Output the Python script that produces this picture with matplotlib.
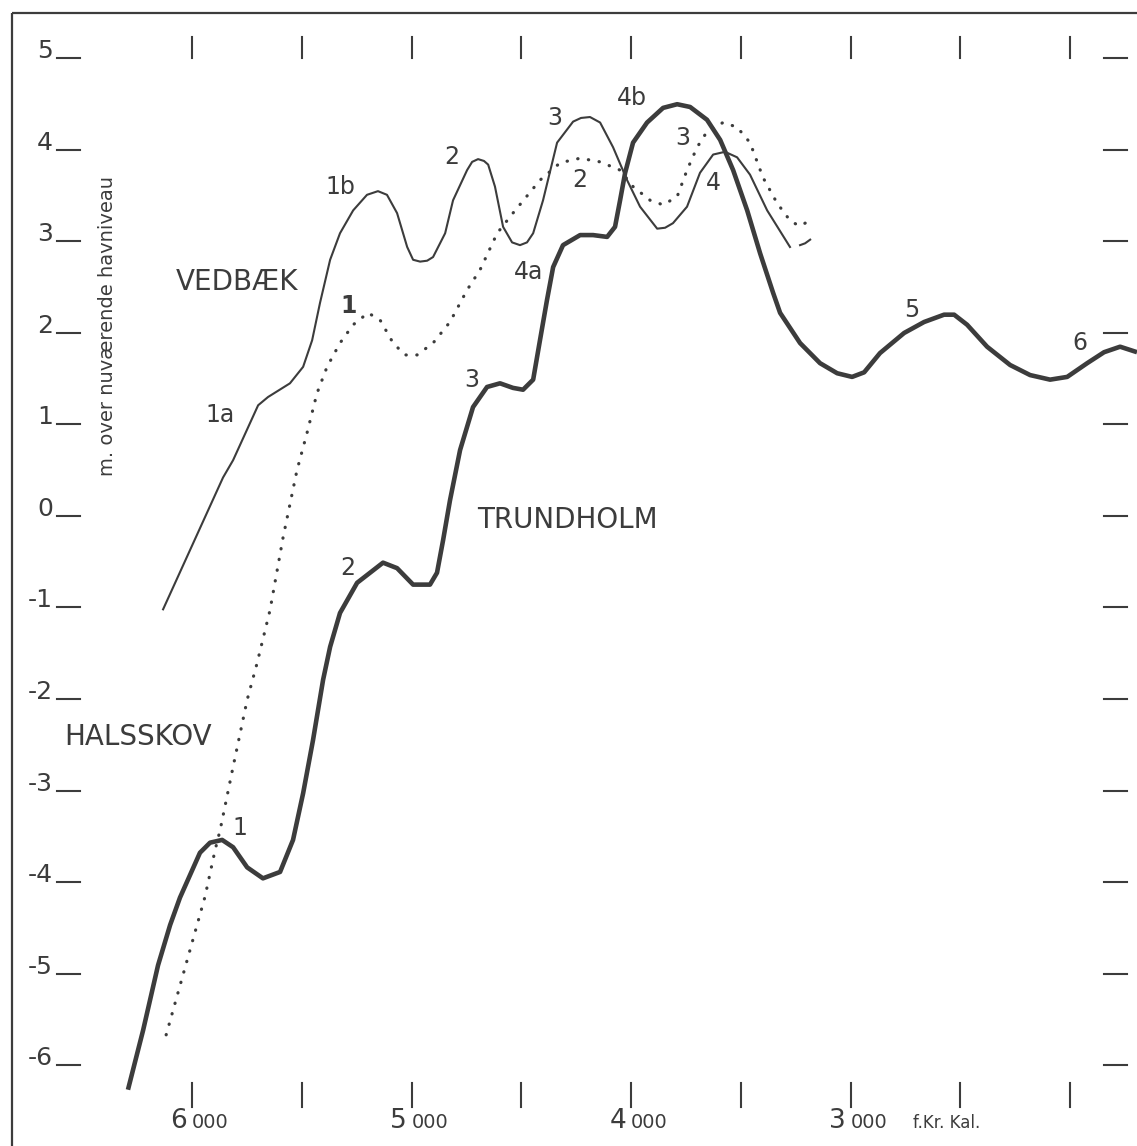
import numpy as np
import matplotlib
matplotlib.use('Agg')
import matplotlib.pyplot as plt

plt.rcParams['font.family'] = 'DejaVu Sans'
ink = '#3c3c3c'

# years f.Kr. (BC) and metres over present sea level
vedbaek_x = [6132, 5859, 5813, 5699, 5654, 5554, 5494, 5453, 5417, 5371, 5326, 5266, 5203,
             5153, 5112, 5066, 5020, 4993, 4961, 4929, 4902, 4847, 4811, 4747, 4724, 4697,
             4670, 4651, 4620, 4583, 4542, 4506, 4474, 4446, 4401, 4337, 4264, 4228, 4187,
             4141, 4082, 4018, 3959, 3881, 3845, 3809, 3745, 3686, 3626, 3572, 3517, 3458,
             3380, 3276]
vedbaek_y = [-1.02, 0.42, 0.61, 1.21, 1.30, 1.45, 1.63, 1.92, 2.33, 2.80, 3.09, 3.34, 3.51,
             3.55, 3.51, 3.31, 2.94, 2.80, 2.78, 2.79, 2.83, 3.09, 3.45, 3.78, 3.87, 3.90,
             3.88, 3.84, 3.60, 3.16, 2.99, 2.96, 2.99, 3.09, 3.45, 4.08, 4.31, 4.35, 4.36,
             4.30, 4.03, 3.67, 3.38, 3.14, 3.15, 3.20, 3.38, 3.75, 3.95, 3.98, 3.92, 3.73,
             3.34, 2.94]
vedbaek_tail_x = [3230, 3207, 3184]
vedbaek_tail_y = [2.96, 2.98, 3.02]

halsskov_x = [6118, 5941, 5895, 5872, 5813, 5749, 5704, 5645, 5585, 5522, 5476, 5431, 5385,
              5326, 5266, 5198, 5143, 5084, 5030, 4975, 4902, 4825, 4747, 4688, 4610, 4538,
              4415, 4323, 4232, 4141, 4050, 3991, 3913, 3854, 3790, 3745, 3699, 3654, 3581,
              3517, 3458, 3399, 3335, 3276, 3235, 3198]
halsskov_y = [-5.67, -4.16, -3.65, -3.43, -2.74, -2.01, -1.61, -1.03, -0.23, 0.50, 0.91, 1.34,
              1.63, 1.89, 2.09, 2.22, 2.14, 1.89, 1.76, 1.76, 1.89, 2.12, 2.47, 2.69, 3.09,
              3.31, 3.67, 3.86, 3.91, 3.87, 3.78, 3.60, 3.45, 3.40, 3.49, 3.78, 4.03, 4.20,
              4.30, 4.25, 4.08, 3.70, 3.42, 3.23, 3.17, 3.21]

trundholm_x = [6292, 6223, 6155, 6100, 6055, 5964, 5918, 5863, 5813, 5749, 5677, 5599, 5540,
               5494, 5449, 5403, 5371, 5326, 5248, 5130, 5066, 4993, 4916, 4884, 4856, 4825,
               4779, 4720, 4656, 4597, 4538, 4492, 4446, 4415, 4383, 4355, 4310, 4232, 4173,
               4109, 4073, 4050, 4027, 3991, 3927, 3854, 3790, 3731, 3654, 3594, 3535, 3471,
               3412, 3353, 3321, 3230, 3139, 3061, 2993, 2938, 2866, 2756, 2665, 2574, 2528,
               2469, 2378, 2273, 2182, 2091, 2013, 1922, 1845, 1772, 1695]
trundholm_y = [-6.27, -5.62, -4.91, -4.47, -4.17, -3.68, -3.57, -3.54, -3.62, -3.84, -3.96,
               -3.89, -3.54, -3.03, -2.45, -1.79, -1.43, -1.06, -0.73, -0.51, -0.57, -0.75,
               -0.75, -0.62, -0.26, 0.17, 0.72, 1.19, 1.41, 1.45, 1.40, 1.38, 1.49, 1.92,
               2.36, 2.72, 2.96, 3.07, 3.07, 3.05, 3.16, 3.45, 3.75, 4.08, 4.30, 4.46, 4.50,
               4.47, 4.33, 4.11, 3.78, 3.34, 2.87, 2.44, 2.22, 1.89, 1.67, 1.56, 1.52, 1.57,
               1.78, 2.00, 2.12, 2.20, 2.20, 2.09, 1.85, 1.65, 1.54, 1.49, 1.52, 1.67, 1.79,
               1.85, 1.79]

y_ticks = [5, 4, 3, 2, 1, 0, -1, -2, -3, -4, -5, -6]
x_ticks = [6000, 5500, 5000, 4500, 4000, 3500, 3000, 2500, 2000]
x_labels = {6000: '6', 5000: '5', 4000: '4', 3000: '3'}

# curve annotations: (text, year, metres, size, weight)
notes = [('1b', 5326, 3.60, 17, 'normal'), ('1a', 5872, 1.10, 17, 'normal'),
         ('1', 5289, 2.30, 17, 'bold'), ('2', 4815, 3.92, 17, 'normal'),
         ('3', 4346, 4.35, 17, 'normal'), ('4b', 3995, 4.57, 17, 'normal'),
         ('2', 4232, 3.67, 17, 'normal'), ('3', 3763, 4.13, 17, 'normal'),
         ('4', 3626, 3.64, 17, 'normal'), ('4a', 4469, 2.67, 17, 'normal'),
         ('3', 4724, 1.49, 17, 'normal'), ('2', 5289, -0.57, 17, 'normal'),
         ('1', 5781, -3.41, 17, 'normal'), ('5', 2720, 2.25, 17, 'normal'),
         ('6', 1954, 1.89, 17, 'normal'),
         ('VEDBÆK', 5795, 2.56, 20, 'normal'), ('TRUNDHOLM', 4292, -0.04, 20, 'normal'),
         ('HALSSKOV', 6246, -2.42, 20, 'normal')]

fig = plt.figure(figsize=(11.37, 11.46), dpi=100)
ax = fig.add_axes([0, 0, 1, 1])
ax.set_xlim(6875, 1695)
ax.set_ylim(-6.885, 5.639)
ax.axis('off')

# frame (left + top only)
ax.plot([6820, 6820], [-6.885, 5.497], color=ink, lw=1.6, solid_capstyle='butt')
ax.plot([6820, 1695], [5.497, 5.497], color=ink, lw=1.6, solid_capstyle='butt')

ax.plot(vedbaek_x, vedbaek_y, color=ink, lw=1.5, solid_joinstyle='round')
ax.plot(vedbaek_tail_x, vedbaek_tail_y, color=ink, lw=1.5)
ax.plot(halsskov_x, halsskov_y, color=ink, lw=2.3, linestyle=(0, (0.1, 3.3)),
        dash_capstyle='round')
ax.plot(trundholm_x, trundholm_y, color=ink, lw=3.3, solid_joinstyle='round',
        solid_capstyle='butt')

# y axis: "5_" style labels on the left, dashes on the right
for v in y_ticks:
    ax.text(6633, v, str(v), ha='right', va='baseline', fontsize=18, color=ink)
    ax.plot([6615, 6510], [v, v], color=ink, lw=1.5)
    ax.plot([1845, 1740], [v, v], color=ink, lw=1.5)

# x axis: short vertical ticks along top and bottom
for t in x_ticks:
    ax.plot([t, t], [5.005, 5.235], color=ink, lw=1.5)
    ax.plot([t, t], [-6.197, -6.459], color=ink, lw=1.5)
    if t in x_labels:
        ax.text(t + 23, -6.689, x_labels[t], ha='right', va='baseline',
                fontsize=19, color=ink)
        ax.text(t, -6.689, '000', ha='left', va='baseline', fontsize=14, color=ink)
ax.text(2715, -6.689, 'f.Kr. Kal.', ha='left', va='baseline', fontsize=12, color=ink)

ax.text(6383, 2.08, 'm. over nuværende havniveau', rotation=90, ha='center',
        va='center', fontsize=14, color=ink)

for txt, x, y, size, weight in notes:
    ax.text(x, y, txt, ha='center', va='center', fontsize=size,
            fontweight=weight, color=ink)

fig.savefig('out.png', dpi=100, facecolor='white')
